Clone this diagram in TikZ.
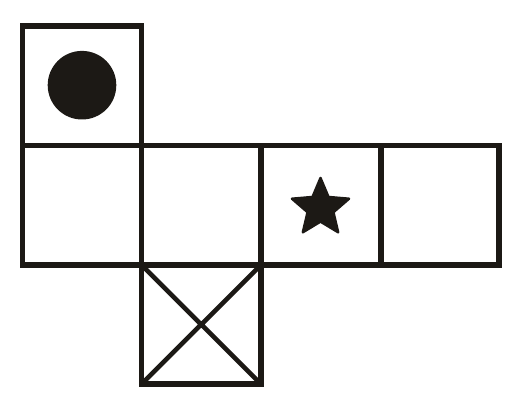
\documentclass[tikz,border=0pt]{standalone}
\begin{document}
\begin{tikzpicture}[x=1pt,y=-1pt,line width=5.2pt,
  cell/.style={draw=inkc,line cap=rect}]
\definecolor{inkc}{HTML}{1C1915}
\useasboundingbox (0,0) rectangle (528,406);
% cells
\draw[cell] (22.5,26) rectangle (141.5,145.5);
\draw[cell] (22.5,145.5) rectangle (141.5,265);
\draw[cell] (141.5,145.5) rectangle (261,265);
\draw[cell] (261,145.5) rectangle (381,265);
\draw[cell] (381,145.5) rectangle (499,265);
\draw[cell] (141.5,265) rectangle (261,384);
% cross
\coordinate (tl) at (141.5,265);
\coordinate (tr) at (261,265);
\coordinate (bl) at (141.5,384);
\coordinate (br) at (261,384);
\draw[draw=inkc,line width=4.6pt] (tl) -- (br) (tr) -- (bl);
% circle
\fill[inkc] (82,85.2) circle (34.3);
% star
\begin{scope}[shift={(320.5,208)}]
\fill[inkc,draw=inkc,line width=2.5pt,line join=round]
  (-90:30) -- (-54:13.6) -- (-18:30) -- (18:13.6) -- (54:30) -- (90:13.6)
  -- (126:30) -- (162:13.6) -- (198:30) -- (234:13.6) -- cycle;
\end{scope}
\end{tikzpicture}
\end{document}
